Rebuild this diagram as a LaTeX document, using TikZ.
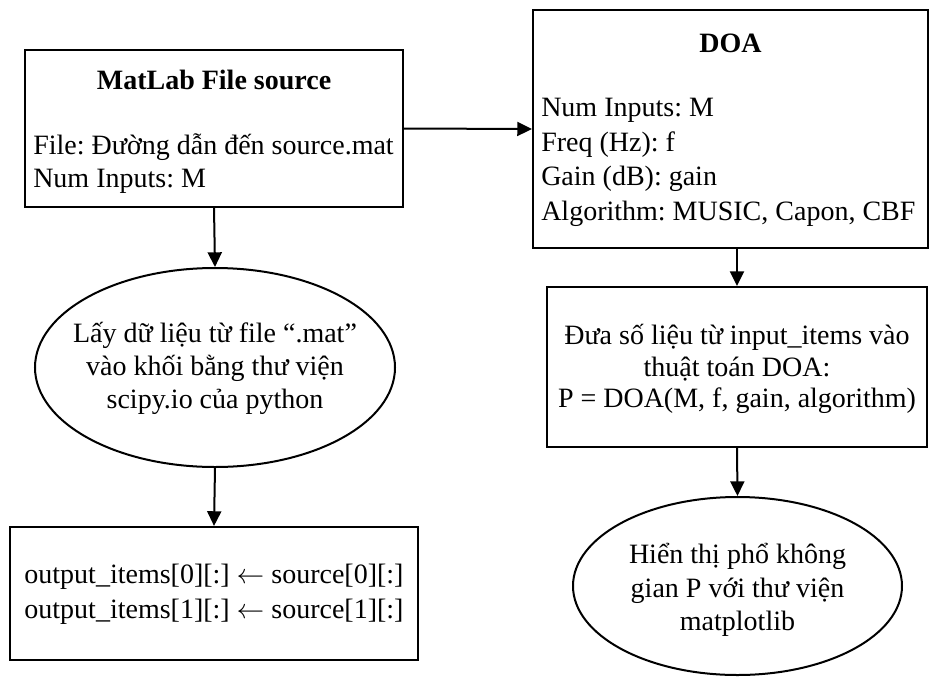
\documentclass[tikz,border=0pt]{standalone}
\usepackage{fontspec}
\setmainfont{Liberation Serif}
\usetikzlibrary{arrows.meta,shapes.geometric}
\frenchspacing
\tikzset{
  shapebox/.style={draw=black, line width=1.6pt, rectangle, inner sep=0pt},
  shapeell/.style={draw=black, line width=1.5pt, ellipse, inner sep=0pt},
  txt/.style={inner sep=0pt, font=\fontsize{21}{25}\selectfont},
  conn/.style={line width=1.5pt, -{Triangle[length=11pt,width=10.5pt]}}
}
\begin{document}
\begin{tikzpicture}[x=0.75pt,y=-0.75pt]
\useasboundingbox (0,0) rectangle (933,679);
% shapes
\node[shapebox, minimum width=283.5pt, minimum height=117.75pt] (src) at (214,128.5) {};
\node[shapebox, minimum width=296.25pt, minimum height=178.5pt] (doa) at (730.5,129) {};
\node[shapebox, minimum width=285pt, minimum height=120pt] (proc) at (737,367) {};
\node[shapebox, minimum width=306pt, minimum height=99.75pt] (out) at (214,593.5) {};
\node[shapeell, minimum width=270pt, minimum height=149.25pt] (load) at (215,367.5) {};
\node[shapeell, minimum width=246.75pt, minimum height=133.5pt] (plot) at (737.5,586) {};
% texts
\node[txt, font=\fontsize{21}{25}\selectfont\bfseries] (srct) at (214,80) {MatLab File source};
\node[txt, align=left, anchor=west] (srcp) at (33,163.5) {File: Đường dẫn đến source.mat\\Num Inputs: M};
\node[txt, font=\fontsize{21}{25}\selectfont\bfseries] (doat) at (730.5,43) {DOA};
\node[txt, align=left, anchor=west, font=\fontsize{21}{26}\selectfont] (doap) at (541,162.5) {Num Inputs: M\\Freq (Hz): f\\Gain (dB): gain\\Algorithm: MUSIC, Capon, CBF};
\node[txt, align=center, font=\fontsize{21}{23.5}\selectfont] (proct) at (737,369) {Đưa số liệu từ input\_items vào\\thuật toán DOA:\\P = DOA(M, f, gain, algorithm)};
\node[txt, align=center] (loadt) at (215,368.5) {Lấy dữ liệu từ file “.mat”\\vào khối bằng thư viện\\scipy.io của python};
\node[txt, align=center, font=\fontsize{21}{26}\selectfont] (outt) at (214,594.5) {output\_items[0][:] $\leftarrow$ source[0][:]\\output\_items[1][:] $\leftarrow$ source[1][:]};
\node[txt, align=center] (plott) at (737.5,590) {Hiển thị phổ không\\gian P với thư viện\\matplotlib};
% connectors
\draw[conn] (src.east) -- (doa.west);
\draw[conn] (src.south) -- (load.north);
\draw[conn] (load.south) -- (out.north);
\draw[conn] (doa.south -| proc.north) -- (proc.north);
\draw[conn] (proc.south) -- (plot.north);
\end{tikzpicture}
\end{document}
